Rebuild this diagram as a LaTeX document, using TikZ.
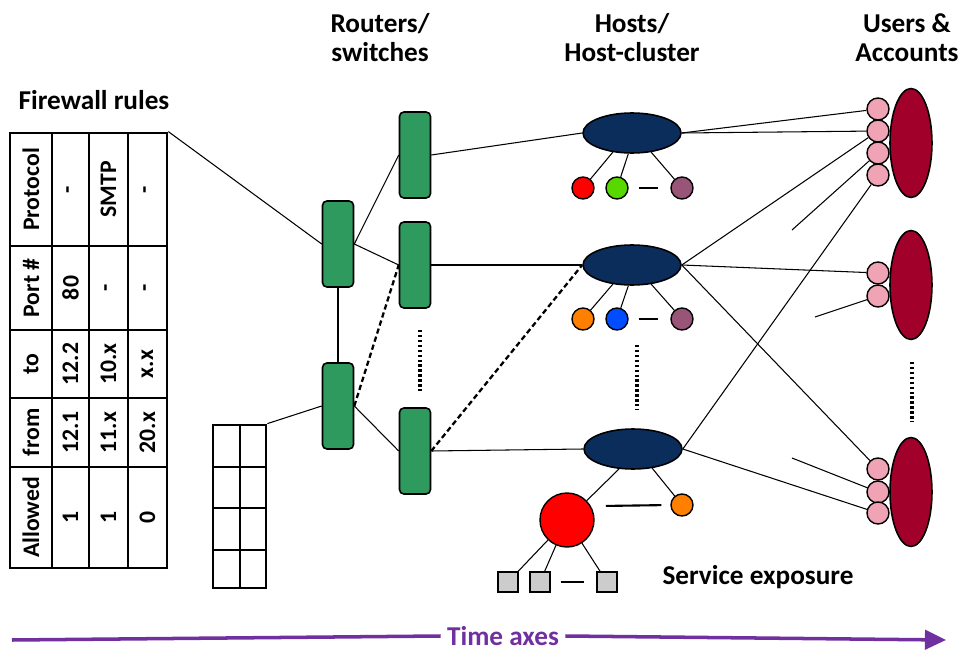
\documentclass[tikz,border=0pt]{standalone}
\usepackage{fontspec}
\setmainfont{Carlito}
\usepackage{tikz}
\usetikzlibrary{arrows.meta}
\usetikzlibrary{shapes.geometric}

\definecolor{routergreen}{HTML}{2F9A5E}
\definecolor{hostblue}{HTML}{0B2D5C}
\definecolor{userred}{HTML}{A0002A}
\definecolor{userpink}{HTML}{EFA3B4}
\definecolor{timepurple}{HTML}{7030A0}

\begin{document}
\begin{tikzpicture}[x=0.02cm, y=-0.02cm, line width=0.6pt,
    title/.style={font=\fontsize{15.5}{16.5}\selectfont\bfseries, align=center},
    cell/.style={font=\fontsize{13.5}{15}\selectfont\bfseries, rotate=90, inner sep=0pt},
    router/.style={draw, line width=0.9pt, fill=routergreen, rounded corners=2.5pt, minimum width=0.62cm, minimum height=1.72cm, inner sep=0pt},
    host/.style={draw, line width=0.9pt, fill=hostblue, ellipse, minimum width=1.96cm, minimum height=0.8cm, inner sep=0pt},
    proc/.style={draw, line width=0.8pt, circle, minimum size=0.44cm, inner sep=0pt},
    svc/.style={draw, line width=0.8pt, fill=gray!40, minimum size=0.4cm, inner sep=0pt},
    user/.style={draw, line width=0.9pt, fill=userred, ellipse, minimum width=0.84cm, minimum height=2.18cm, inner sep=0pt},
    acct/.style={draw, line width=0.8pt, fill=userpink, circle, minimum size=0.44cm, inner sep=0pt},
    dashline/.style={line width=1.3pt, dash pattern=on 3pt off 1.8pt},
    dotline/.style={line width=2.6pt, dash pattern=on 1.4pt off 1.4pt},
    gap/.style={line width=1.2pt, shorten <=0.2cm, shorten >=0.25cm},
    timeline/.style={draw=timepurple, line width=2pt}]
        \useasboundingbox (0,0) rectangle (961,652);

        \node[title] at (380,38) {Routers/\\switches};
        \node[title] at (632,38) {Hosts/\\Host-cluster};
        \node[title] at (907,38) {Users \&\\Accounts};
        \node[title] (fwlabel) at (94,100) {Firewall rules};
        \node[title] (svclabel) at (758,577) {Service exposure};

        \node[draw, line width=1.6pt, minimum width=3.14cm, minimum height=8.7cm] (fw) at (88.5,350.5) {};
        \foreach \x in {52,89,128} \draw (\x,133) -- (\x,568);
        \foreach \y in {246,330,398,467} \draw (10,\y) -- (167,\y);
        \foreach \y/\a/\b/\c/\d [count=\i] in {189.5/Protocol/-/SMTP/-, 288/Port \#/80/-/-, 364/to/12.2/10.x/x.x, 432.5/from/12.1/11.x/20.x, 517.5/Allowed/1/1/0} {
            \node[cell] (fw-\i-a) at (31,\y) {\a};
            \node[cell] (fw-\i-b) at (70.5,\y) {\b};
            \node[cell] (fw-\i-c) at (108.5,\y) {\c};
            \node[cell] (fw-\i-d) at (147.5,\y) {\d};
        }

        \node[draw, line width=1.6pt, minimum width=1.06cm, minimum height=3.26cm] (st) at (239.5,506.5) {};
        \draw (240,425) -- (240,588);
        \foreach \y in {467,508,550} \draw (213,\y) -- (266,\y);

        \node[router] (r1) at (338,244) {};
        \node[router] (r2) at (338,406) {};
        \node[router] (s1) at (415,155) {};
        \node[router] (s2) at (415,265) {};
        \node[router] (s3) at (415,451) {};

        \node[host] (h1) at (632,133) {};
        \node[host] (h2) at (632,265) {};
        \node[host] (h3) at (633,449) {};

        \node[proc, fill=red] (c11) at (583,188) {};
        \node[proc, fill=green!60!yellow!85!black] (c12) at (617,188) {};
        \node[proc, fill=magenta!50!black!90] (c13) at (682,188) {};
        \node[proc, fill=orange] (c21) at (583,319) {};
        \node[proc, fill=blue!70!cyan] (c22) at (617,319) {};
        \node[proc, fill=magenta!50!black!90] (c23) at (682,319) {};
        \node[proc, fill=red, minimum size=1.08cm] (big) at (567,520) {};
        \node[proc, fill=orange] (c32) at (682,505) {};
        \node[svc] (q1) at (508,582) {};
        \node[svc] (q2) at (540,582) {};
        \node[svc] (q3) at (607,582) {};

        \node[user] (u1) at (911,143) {};
        \node[user] (u2) at (911,285) {};
        \node[user] (u3) at (911,492) {};
        \foreach \n/\y in {u1a/109, u1b/131, u1c/153, u1d/175, u2a/273, u2b/296, u3a/469, u3b/492, u3c/513}
            \node[acct] (\n) at (878,\y) {};

        \draw (fw.north east) -- (r1.west);
        \draw (st.north east) -- (r2.west);
        \draw (r1) -- (r2);
        \draw (r1.east) -- (s1.west);
        \draw (r1.east) -- (s2.west);
        \draw[dashline] (r2.east) -- (s2.west);
        \draw (r2.east) -- (s3.west);
        \draw (s1.east) -- (h1.west);
        \draw (s2.east) -- (h2.west);
        \draw (s3.east) -- (h3.west);
        \draw[dashline] (s3.east) -- (h2.west);

        \draw (h1.225) -- (c11);
        \draw (h1.260) -- (c12);
        \draw (h1.315) -- (c13);
        \draw (h2.225) -- (c21);
        \draw (h2.260) -- (c22);
        \draw (h2.315) -- (c23);
        \draw (h3.235) -- (big);
        \draw (h3.315) -- (c32);
        \draw (big) -- (q1);
        \draw (big) -- (q2);
        \draw (big) -- (q3);
        \draw[gap] (c12) -- (c13);
        \draw[gap] (c22) -- (c23);
        \draw[gap, shorten <=0.3cm, shorten >=0.18cm] (big.30) -- (c32.west);
        \draw[gap] (q2) -- (q3);

        \draw (h1.east) -- (u1a);
        \draw (h1.east) -- (u1b);
        \draw (h2.east) -- (u1b);
        \draw (h2.east) -- (u2a);
        \draw (h2.east) -- (u3a);
        \draw (h3.east) -- (u1d);
        \draw (h3.east) -- (u3c);
        \coordinate (f1) at (792,230);
        \coordinate (f2) at (815,317);
        \coordinate (f3) at (792,458);
        \draw (f1) -- (u1c);
        \draw (f2) -- (u2b);
        \draw (f3) -- (u3b);

        \draw[dotline] (420,330) -- (420,392);
        \draw[dotline] (637,345) -- (637,410);
        \draw[dotline] (912,362) -- (912,422);

        \coordinate (t0) at (12,640);
        \coordinate (t1) at (946,640);
        \node[title, text=timepurple] (tax) at (503,636) {Time axes};
        \draw[timeline] (t0) -- (tax.west);
        \draw[timeline, -{Triangle[length=12pt, width=11pt]}] (tax.east) -- (t1);
\end{tikzpicture}
\end{document}
